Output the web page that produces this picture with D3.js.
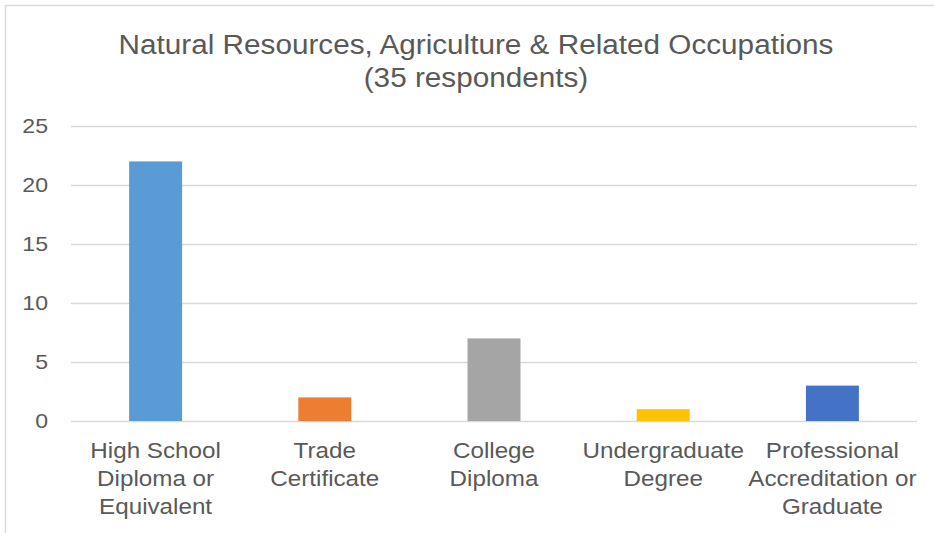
<!DOCTYPE html>
<html>
<head>
<meta charset="utf-8">
<script src="https://cdn.jsdelivr.net/npm/d3@7"></script>
<style>
  body { margin: 0; background: #fff; }
  text { font-family: "Liberation Sans", Arial, sans-serif; fill: #595959; }
</style>
</head>
<body>
<div id="chart"></div>
<script>
// data
var categories = [
    ["High School", "Diploma or", "Equivalent"],
    ["Trade", "Certificate"],
    ["College", "Diploma"],
    ["Undergraduate", "Degree"],
    ["Professional", "Accreditation or", "Graduate"]
];
var values = [22, 2, 7, 1, 3];
var colors = ["#5B9BD5", "#ED7D31", "#A5A5A5", "#FFC000", "#4472C4"];
var yTicks = [0, 5, 10, 15, 20, 25];
var titleLines = ["Natural Resources, Agriculture & Related Occupations", "(35 respondents)"];

var width = 934, height = 533;
var margin = {top: 126, right: 17, bottom: 112, left: 71};
var stretch = 1.1; // reference glyphs run a bit wider than Liberation Sans

// widen text a little so it matches the reference
function widen(sel){
    sel.each(function(){
        var l = this.getComputedTextLength();
        d3.select(this)
            .attr("textLength", l * stretch)
            .attr("lengthAdjust", "spacingAndGlyphs");
    });
}

var svg = d3.select("#chart").append("svg")
    .attr("width", width)
    .attr("height", height);

// chart frame, only top and left edges fall inside the picture
svg.append("path")
    .attr("d", "M5.5,533V5.5H934")
    .attr("fill", "none")
    .attr("stroke", "#d9d9d9")
    .attr("stroke-width", 1.5);

var x = d3.scaleBand()
    .domain(d3.range(values.length))
    .range([margin.left, width - margin.right])
    .paddingInner(0.687)
    .paddingOuter(0.3435);

var y = d3.scaleLinear()
    .domain([0, 25])
    .range([height - margin.bottom, margin.top]);

// gridlines
svg.append("g")
    .selectAll("line")
    .data(yTicks)
    .enter()
    .append("line")
    .attr("x1", margin.left)
    .attr("x2", width - margin.right)
    .attr("y1", function(d){ return Math.round(y(d)) + 0.5; })
    .attr("y2", function(d){ return Math.round(y(d)) + 0.5; })
    .attr("stroke", "#d9d9d9")
    .attr("stroke-width", 1.5);

// y axis labels
var yAxis = d3.axisLeft(y).tickValues(yTicks).tickSize(0).tickPadding(0);
var gy = svg.append("g")
    .attr("transform", "translate(" + 48 + ",0)")
    .call(yAxis);
gy.select(".domain").remove();
gy.selectAll("text")
    .attr("font-size", 21)
    .attr("fill", "#595959")
    .attr("font-family", "Liberation Sans, Arial, sans-serif")
    .call(widen);

// bars
svg.append("g")
    .selectAll("rect")
    .data(values)
    .enter()
    .append("rect")
    .attr("x", function(d, i){ return x(i); })
    .attr("width", x.bandwidth())
    .attr("y", function(d){ return y(d); })
    .attr("height", function(d){ return y(0) - y(d); })
    .attr("fill", function(d, i){ return colors[i]; });

// category labels, one text per line
var lines = [];
categories.forEach(function(c, i){
    c.forEach(function(t, j){ lines.push({i: i, j: j, t: t}); });
});
svg.append("g")
    .selectAll("text")
    .data(lines)
    .enter()
    .append("text")
    .attr("text-anchor", "middle")
    .attr("font-size", 22)
    .attr("x", function(d){ return x(d.i) + x.bandwidth() / 2; })
    .attr("y", function(d){ return 458 + d.j * 28; })
    .text(function(d){ return d.t; })
    .call(widen);

// title
svg.append("g")
    .selectAll("text")
    .data(titleLines)
    .enter()
    .append("text")
    .attr("text-anchor", "middle")
    .attr("font-size", 27)
    .attr("x", 476)
    .attr("y", function(d, i){ return 54 + i * 33; })
    .text(function(d){ return d; })
    .call(widen);
</script>
</body>
</html>
